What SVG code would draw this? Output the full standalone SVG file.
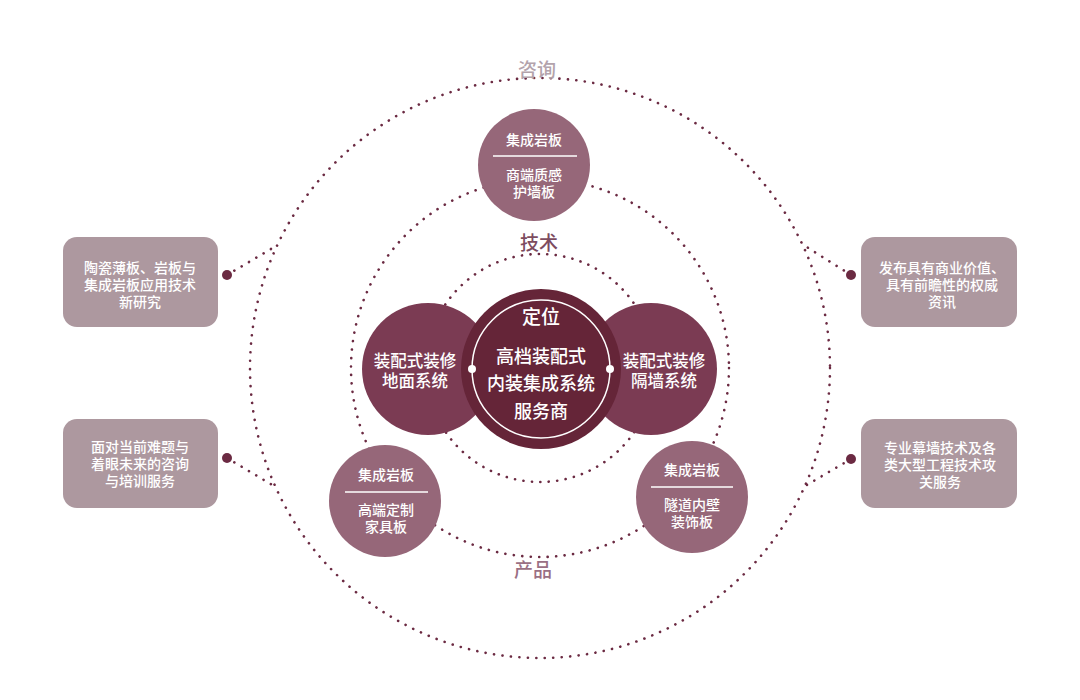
<svg xmlns="http://www.w3.org/2000/svg" width="1080" height="700" viewBox="0 0 1080 700">
<style>
  text { font-family: "Noto Sans CJK SC", "Noto Sans", sans-serif; text-anchor: middle; fill: #ffffff; font-weight: 500; }
  .ring { fill: none; stroke: #6b2a42; stroke-width: 2.6; stroke-linecap: round; stroke-dasharray: 0.1 8.4; }
  .conn { fill: none; stroke: #6b2a42; stroke-width: 2.6; stroke-linecap: round; stroke-dasharray: 0.1 8.4; }
  .end { fill: #6b2a42; }
  .box { fill: #ad989f; }
  .bt { font-size: 14px; }
  .small { fill: #966779; }
  .st { font-size: 14px; }
  .sep { stroke: #ffffff; stroke-width: 1.5; }
  .side { fill: #7b3b53; }
  .sidet { font-size: 16.5px; }
  .core { fill: #652538; }
  .coret { font-size: 18px; }
  .lbl { font-size: 19px; }
</style>
<rect x="0" y="0" width="1080" height="700" fill="#ffffff"/>
<g id="rings">
  <circle class="ring" cx="540" cy="368" r="290"/>
  <circle class="ring" cx="540" cy="368" r="189"/>
  <circle class="ring" cx="540" cy="368" r="114"/>
</g>
<g id="labels">
  <text class="lbl" x="537" y="77" style="fill:#b3a3ab">咨询</text>
  <text class="lbl" x="539" y="250" style="fill:#7d4c5f">技术</text>
  <text class="lbl" x="533" y="577" style="fill:#9a6f84">产品</text>
</g>
<g id="connectors">
  <line class="conn" x1="227" y1="275" x2="276" y2="246"/>
  <line class="conn" x1="227" y1="458" x2="274" y2="486"/>
  <line class="conn" x1="851" y1="275" x2="802" y2="244"/>
  <line class="conn" x1="851" y1="459" x2="805" y2="486"/>
  <circle class="end" cx="227" cy="275" r="5"/>
  <circle class="end" cx="227" cy="458" r="5"/>
  <circle class="end" cx="851" cy="275" r="5"/>
  <circle class="end" cx="851" cy="459" r="5"/>
</g>
<g id="box-left-top">
  <rect class="box" x="63" y="237" width="155" height="90" rx="14"/>
  <text class="bt" x="140" y="273"><tspan x="140">陶瓷薄板、岩板与</tspan><tspan x="140" dy="17">集成岩板应用技术</tspan><tspan x="140" dy="17">新研究</tspan></text>
</g>
<g id="box-left-bottom">
  <rect class="box" x="63" y="419" width="155" height="89" rx="14"/>
  <text class="bt" x="140" y="452"><tspan x="140">面对当前难题与</tspan><tspan x="140" dy="17">着眼未来的咨询</tspan><tspan x="140" dy="17">与培训服务</tspan></text>
</g>
<g id="box-right-top">
  <rect class="box" x="861" y="237" width="156" height="90" rx="14"/>
  <text class="bt" x="942" y="273"><tspan x="942">发布具有商业价值、</tspan><tspan x="942" dy="17">具有前瞻性的权威</tspan><tspan x="942" dy="17">资讯</tspan></text>
</g>
<g id="box-right-bottom">
  <rect class="box" x="861" y="419" width="156" height="89" rx="14"/>
  <text class="bt" x="940" y="453"><tspan x="940">专业幕墙技术及各</tspan><tspan x="940" dy="17">类大型工程技术攻</tspan><tspan x="940" dy="17">关服务</tspan></text>
</g>
<g id="node-top">
  <circle class="small" cx="534" cy="165" r="56"/>
  <text class="st" x="534" y="145">集成岩板</text>
  <line class="sep" x1="493" y1="156" x2="577" y2="156"/>
  <text class="st" x="534" y="180"><tspan x="534">商端质感</tspan><tspan x="534" dy="17">护墙板</tspan></text>
</g>
<g id="node-bottom-left">
  <circle class="small" cx="385" cy="501" r="56"/>
  <text class="st" x="386" y="480">集成岩板</text>
  <line class="sep" x1="345" y1="492" x2="428" y2="492"/>
  <text class="st" x="386" y="515"><tspan x="386">高端定制</tspan><tspan x="386" dy="17">家具板</tspan></text>
</g>
<g id="node-bottom-right">
  <circle class="small" cx="692" cy="497" r="56"/>
  <text class="st" x="692" y="475">集成岩板</text>
  <line class="sep" x1="651" y1="487" x2="733" y2="487"/>
  <text class="st" x="692" y="510"><tspan x="692">隧道内壁</tspan><tspan x="692" dy="17">装饰板</tspan></text>
</g>
<g id="node-left">
  <circle class="side" cx="428" cy="369" r="66"/>
  <text class="sidet" x="415" y="367"><tspan x="415">装配式装修</tspan><tspan x="415" dy="20">地面系统</tspan></text>
</g>
<g id="node-right">
  <circle class="side" cx="651" cy="369" r="66"/>
  <text class="sidet" x="664" y="367"><tspan x="664">装配式装修</tspan><tspan x="664" dy="20">隔墙系统</tspan></text>
</g>
<g id="node-center">
  <circle class="core" cx="541" cy="369" r="80"/>
  <circle cx="541" cy="369" r="69" fill="none" stroke="#ffffff" stroke-width="1.5"/>
  <circle cx="472" cy="369" r="4" fill="#ffffff"/>
  <circle cx="610" cy="369" r="4" fill="#ffffff"/>
  <text class="lbl" x="541" y="324">定位</text>
  <text class="coret" x="541" y="363"><tspan x="541">高档装配式</tspan><tspan x="541" dy="27">内装集成系统</tspan><tspan x="541" dy="28">服务商</tspan></text>
</g>
</svg>
